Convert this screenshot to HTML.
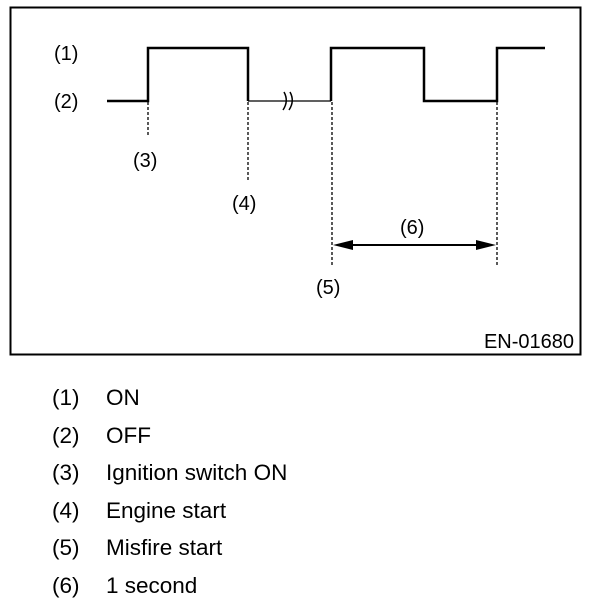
<!DOCTYPE html>
<html><head><style>
body{margin:0;background:#fff;width:608px;height:608px;overflow:hidden;font-family:"Liberation Sans",sans-serif}
</style></head><body>
<svg width="608" height="608" viewBox="0 0 608 608" xmlns="http://www.w3.org/2000/svg" font-family="Liberation Sans, sans-serif" fill="#000">
<rect x="10.5" y="7.5" width="570" height="347" fill="none" stroke="#000" stroke-width="2"/>
<polyline points="107,101 148,101 148,48 248,48 248,101" fill="none" stroke="#000" stroke-width="2.5"/>
<line x1="248" y1="101" x2="331" y2="101" stroke="#000" stroke-width="1.3"/>
<path d="M284,92 q5,9 -1,18 M290,92 q5,9 -1,18" fill="none" stroke="#000" stroke-width="1.5"/>
<polyline points="331,101 331,48 424,48 424,101 497,101 497,48 545,48" fill="none" stroke="#000" stroke-width="2.5"/>
<g stroke="#000" stroke-width="1.3" stroke-dasharray="3,2">
<line x1="148" y1="102" x2="148" y2="137"/>
<line x1="248" y1="102" x2="248" y2="181"/>
<line x1="332" y1="102" x2="332" y2="265"/>
<line x1="497" y1="102" x2="497" y2="265"/>
</g>
<line x1="340" y1="245" x2="490" y2="245" stroke="#000" stroke-width="2"/>
<polygon points="333,245 353,240 353,250"/>
<polygon points="496,245 476,240 476,250"/>
<g font-size="20">
<text x="54" y="60">(1)</text>
<text x="54" y="108">(2)</text>
<text x="133" y="167">(3)</text>
<text x="232" y="210">(4)</text>
<text x="316" y="294">(5)</text>
<text x="400" y="234">(6)</text>
<text x="574" y="348" text-anchor="end">EN-01680</text>
</g>
<g font-size="22.5">
<text x="52" y="405">(1)</text><text x="106" y="405">ON</text>
<text x="52" y="443">(2)</text><text x="106" y="443">OFF</text>
<text x="52" y="480">(3)</text><text x="106" y="480">Ignition switch ON</text>
<text x="52" y="518">(4)</text><text x="106" y="518">Engine start</text>
<text x="52" y="555">(5)</text><text x="106" y="555">Misfire start</text>
<text x="52" y="593">(6)</text><text x="106" y="593">1 second</text>
</g>
</svg>
</body></html>
